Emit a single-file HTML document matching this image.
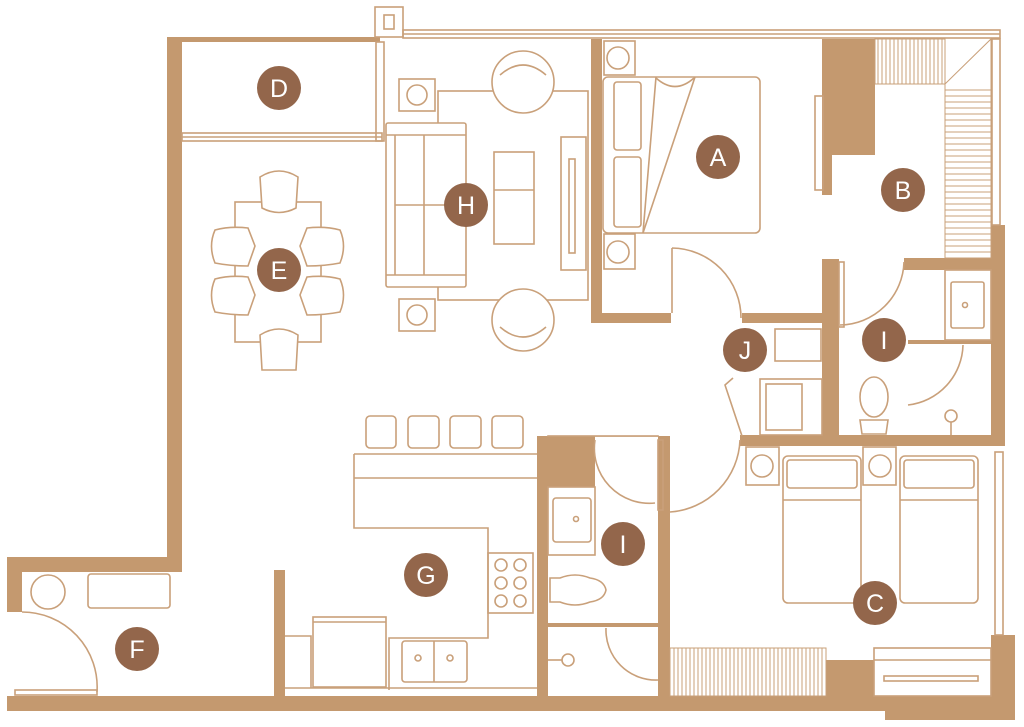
<!DOCTYPE html>
<html><head><style>
html,body{margin:0;padding:0;background:#fff;}
svg{display:block;}
.l{fill:none;stroke:#c9a07a;stroke-width:1.6;}
.w{fill:#c4996f;stroke:none;}
.b{fill:#93664b;}
.t{fill:#fff;font-family:"Liberation Sans",sans-serif;font-size:25px;text-anchor:middle;dominant-baseline:central;}
</style></head><body>
<svg width="1024" height="727" viewBox="0 0 1024 727" xmlns="http://www.w3.org/2000/svg">
<!-- walls -->
<g class="w">
<rect x="167" y="37" width="15" height="535"/>
<rect x="7" y="557" width="175" height="15"/>
<rect x="7" y="557" width="15" height="55"/>
<rect x="7" y="696" width="1000" height="15"/>
<rect x="885" y="708" width="130" height="12"/>
<rect x="167" y="37" width="213" height="5"/>
<rect x="591" y="39" width="11" height="284"/>
<rect x="591" y="313" width="80" height="10"/>
<rect x="742" y="313" width="80" height="10"/>
<rect x="822" y="39" width="53" height="116"/>
<rect x="822" y="155" width="10" height="40"/>
<rect x="904" y="258" width="87" height="12"/>
<rect x="822" y="259" width="17" height="176"/>
<rect x="991" y="225" width="14" height="220"/>
<rect x="740" y="435" width="265" height="11"/>
<rect x="991" y="635" width="24" height="85"/>
<rect x="537" y="436" width="11" height="260"/>
<rect x="537" y="436" width="58" height="51"/>
<rect x="658" y="436" width="12" height="260"/>
<rect x="548" y="623" width="110" height="4"/>
<rect x="826" y="660" width="48" height="36"/>
<rect x="274" y="570" width="11" height="126"/>
<rect x="908" y="340" width="83" height="4"/>
</g>
<!-- windows -->
<g class="l" stroke-width="1.3">
<rect x="375" y="7" width="28" height="30"/><rect x="384" y="15" width="10" height="14"/>
<rect x="403" y="30" width="597" height="8"/><line x1="403" y1="34" x2="1000" y2="34"/>
<rect x="182" y="133" width="200" height="8"/><line x1="182" y1="137" x2="382" y2="137"/>
<rect x="376" y="42" width="8" height="99"/>
<rect x="992" y="39" width="8" height="186"/>
<rect x="995" y="452" width="8" height="183"/>
<rect x="548" y="436" width="110" height="0.1"/>
</g>
<!-- hatched wardrobes -->
<g stroke="#c9a07a" stroke-width="1">
<rect x="875" y="39" width="70" height="45" fill="none"/>
<path d="M878 39V84M882 39V84M886 39V84M890 39V84M894 39V84M898 39V84M902 39V84M906 39V84M910 39V84M914 39V84M918 39V84M922 39V84M926 39V84M930 39V84M934 39V84M938 39V84M942 39V84"/>
<polygon points="945,84 991,39 991,258 945,258" fill="none"/>
<path d="M945 90H991M945 96H991M945 102H991M945 108H991M945 114H991M945 120H991M945 126H991M945 132H991M945 138H991M945 144H991M945 150H991M945 156H991M945 162H991M945 168H991M945 174H991M945 180H991M945 186H991M945 192H991M945 198H991M945 204H991M945 210H991M945 216H991M945 222H991M945 228H991M945 234H991M945 240H991M945 246H991M945 252H991"/>
<rect x="670" y="648" width="156" height="48" fill="none"/>
<path d="M674 648V696M678 648V696M682 648V696M686 648V696M690 648V696M694 648V696M698 648V696M702 648V696M706 648V696M710 648V696M714 648V696M718 648V696M722 648V696M726 648V696M730 648V696M734 648V696M738 648V696M742 648V696M746 648V696M750 648V696M754 648V696M758 648V696M762 648V696M766 648V696M770 648V696M774 648V696M778 648V696M782 648V696M786 648V696M790 648V696M794 648V696M798 648V696M802 648V696M806 648V696M810 648V696M814 648V696M818 648V696M822 648V696"/>
</g>
<g class="l">
<!-- B desk -->
<rect x="815" y="96" width="8" height="94"/>
<!-- living room -->
<rect x="438" y="91" width="150" height="209"/>
<rect x="386" y="123" width="80" height="164" rx="2" fill="#fff"/>
<line x1="386" y1="135" x2="466" y2="135"/><line x1="386" y1="275" x2="466" y2="275"/>
<line x1="395" y1="135" x2="395" y2="275"/><line x1="424" y1="135" x2="424" y2="275"/><line x1="395" y1="205" x2="466" y2="205"/>
<rect x="399" y="79" width="36" height="32"/><circle cx="417" cy="95" r="10"/>
<rect x="399" y="299" width="36" height="32"/><circle cx="417" cy="315" r="10"/>
<circle cx="523" cy="82" r="31" fill="#fff"/><path d="M500 75 Q523 55 546 75"/>
<circle cx="523" cy="320" r="31" fill="#fff"/><path d="M500 327 Q523 347 546 327"/>
<rect x="494" y="152" width="40" height="92" fill="#fff"/><line x1="494" y1="190" x2="534" y2="190"/>
<rect x="561" y="137" width="25" height="133"/><rect x="569" y="159" width="6" height="94"/>
<!-- dining -->
<rect x="235" y="202" width="86" height="140"/>
<path d="M260 177 Q279 165 298 177 L296 208 Q279 217 262 208Z" fill="#fff"/>
<path d="M260 335 Q279 323 298 335 L296 370 L262 370Z" fill="#fff"/>
<path d="M215 230 Q230 226 248 228 L255 246 L248 266 Q230 266 215 263Q208 246 215 230Z" fill="#fff"/>
<path d="M215 279 Q230 275 248 277 L255 295 L248 315 Q230 315 215 312Q208 295 215 279Z" fill="#fff"/>
<path d="M340 230 Q325 226 307 228 L300 246 L307 266 Q325 266 340 263Q347 246 340 230Z" fill="#fff"/>
<path d="M340 279 Q325 275 307 277 L300 295 L307 315 Q325 315 340 312Q347 295 340 279Z" fill="#fff"/>
<!-- bedroom A -->
<rect x="603" y="77" width="157" height="156" rx="5"/>
<rect x="614" y="82" width="27" height="68" rx="3"/><rect x="614" y="157" width="27" height="70" rx="3"/>
<line x1="656" y1="77" x2="643" y2="233"/><line x1="695" y1="77" x2="643" y2="233"/>
<path d="M656 78 Q675 95 694 78"/>
<rect x="604" y="41" width="31" height="34"/><circle cx="618" cy="58" r="11"/>
<rect x="604" y="234" width="31" height="35"/><circle cx="618" cy="252" r="11"/>
<!-- doors -->
<path d="M672 248 V313 M672 248 A70 70 0 0 1 741 318"/>
<path d="M840 325 A65 65 0 0 0 904 262"/>
<rect x="839" y="262" width="5" height="65"/>
<path d="M908 405 A62 62 0 0 0 963 345"/>
<path d="M595 440 A55 55 0 0 0 655 503"/>
<path d="M670 512 A75 75 0 0 0 740 440"/>
<rect x="658" y="440" width="5" height="70"/>
<path d="M606 628 A50 50 0 0 0 658 680"/>
<path d="M22 612 A75 75 0 0 1 97 692"/>
<rect x="15" y="690" width="82" height="5"/>
<!-- J -->
<rect x="775" y="329" width="46" height="32"/>
<rect x="760" y="379" width="62" height="56"/><rect x="766" y="384" width="36" height="46"/>
<path d="M742 436 L725 385 L733 378"/>
<!-- bathroom top-right -->
<rect x="945" y="270" width="46" height="70"/><rect x="951" y="282" width="33" height="46" rx="2"/>
<circle cx="965" cy="305" r="2.5"/>
<ellipse cx="874" cy="397" rx="14" ry="20"/><path d="M860 420 H888 L886 434 H862Z"/>
<circle cx="951" cy="416" r="6"/><line x1="951" y1="422" x2="951" y2="435"/>
<!-- bedroom C -->
<rect x="746" y="447" width="33" height="38"/><circle cx="762" cy="466" r="11"/>
<rect x="863" y="447" width="33" height="38"/><circle cx="880" cy="466" r="11"/>
<rect x="783" y="456" width="78" height="147" rx="5"/><rect x="787" y="460" width="70" height="28" rx="3"/><line x1="783" y1="500" x2="861" y2="500"/>
<rect x="900" y="456" width="78" height="147" rx="5"/><rect x="904" y="460" width="70" height="28" rx="3"/><line x1="900" y1="500" x2="978" y2="500"/>
<rect x="874" y="648" width="117" height="48"/>
<line x1="874" y1="660" x2="991" y2="660"/>
<rect x="884" y="676" width="94" height="5"/>
<!-- lower bathroom -->
<rect x="548" y="487" width="47" height="68"/><rect x="553" y="498" width="38" height="44" rx="3"/>
<circle cx="576" cy="519" r="2.5"/>
<path d="M550 578 H560 Q575 572 590 578 Q604 580 606 590 Q604 600 590 602 Q575 608 560 602 H550Z"/>
<circle cx="568" cy="660" r="6"/><line x1="548" y1="660" x2="562" y2="660"/>
<!-- kitchen -->
<path d="M354 454 H537 M354 478 H537 M354 454 V528 H488 V638 H389 V690"/>
<rect x="366" y="416" width="30" height="32" rx="4"/><rect x="408" y="416" width="31" height="32" rx="4"/>
<rect x="450" y="416" width="31" height="32" rx="4"/><rect x="492" y="416" width="31" height="32" rx="4"/>
<rect x="488" y="553" width="45" height="60"/>
<circle cx="501" cy="565" r="6"/><circle cx="520" cy="565" r="6"/><circle cx="501" cy="583" r="6"/><circle cx="520" cy="583" r="6"/><circle cx="501" cy="601" r="6"/><circle cx="520" cy="601" r="6"/>
<rect x="402" y="641" width="65" height="41" rx="3"/><line x1="434" y1="641" x2="434" y2="682"/>
<circle cx="418" cy="658" r="3"/><circle cx="450" cy="658" r="3"/>
<rect x="313" y="617" width="73" height="70"/><line x1="313" y1="622" x2="386" y2="622"/>
<path d="M285 636 H311 V688 M285 688 H537"/>
<!-- F -->
<circle cx="48" cy="592" r="17"/>
<rect x="88" y="574" width="82" height="34" rx="3"/>
</g>
<!-- badges -->
<g>
<circle class="b" cx="279" cy="88" r="22"/><text class="t" x="279" y="89">D</text>
<circle class="b" cx="279" cy="270" r="22"/><text class="t" x="279" y="271">E</text>
<circle class="b" cx="466" cy="205" r="22"/><text class="t" x="466" y="206">H</text>
<circle class="b" cx="718" cy="157" r="22"/><text class="t" x="718" y="158">A</text>
<circle class="b" cx="903" cy="190" r="22"/><text class="t" x="903" y="191">B</text>
<circle class="b" cx="745" cy="350" r="22"/><text class="t" x="745" y="351">J</text>
<circle class="b" cx="884" cy="340" r="22"/><text class="t" x="884" y="341">I</text>
<circle class="b" cx="623" cy="544" r="22"/><text class="t" x="623" y="545">I</text>
<circle class="b" cx="426" cy="575" r="22"/><text class="t" x="426" y="576">G</text>
<circle class="b" cx="137" cy="649" r="22"/><text class="t" x="137" y="650">F</text>
<circle class="b" cx="875" cy="603" r="22"/><text class="t" x="875" y="604">C</text>
</g>
</svg>
</body></html>
